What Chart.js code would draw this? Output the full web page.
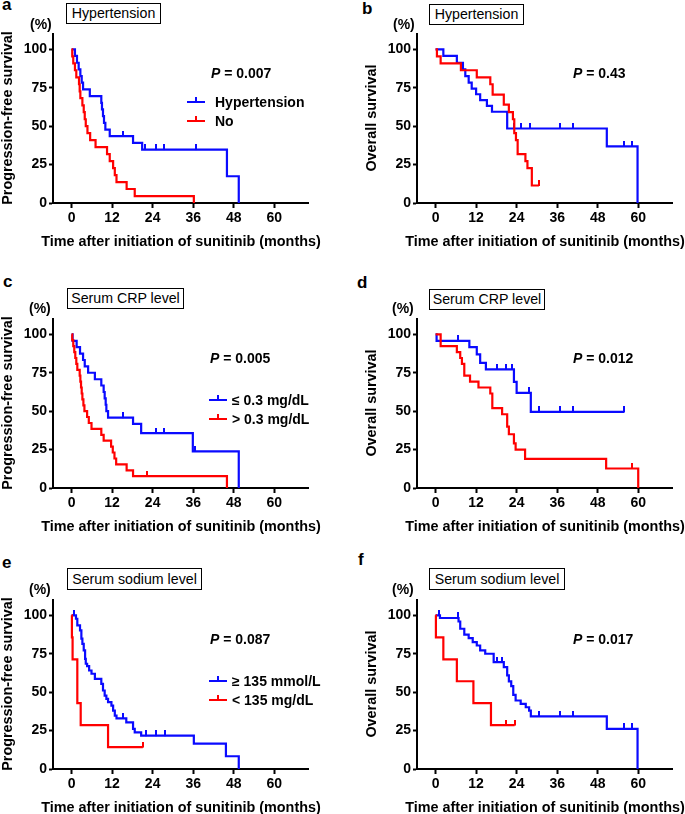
<!DOCTYPE html>
<html>
<head>
<meta charset="utf-8">
<script src="https://cdn.jsdelivr.net/npm/chart.js@4.4.1/dist/chart.umd.min.js"></script>
<style>
  body { margin: 0; background: #fff; }
  #wrap { position: relative; width: 685px; height: 814px; background: #fff; overflow: hidden; }
  .t { position: absolute; font-family: "Liberation Sans", Arial, sans-serif; font-weight: bold; font-size: 14px; line-height: 14px; color: #000; white-space: nowrap; }
  .ax { position: absolute; font-family: "Liberation Sans", Arial, sans-serif; font-weight: bold; font-size: 14.4px; line-height: 16px; color: #000; white-space: nowrap; }
  .L { position: absolute; font-family: "Liberation Sans", Arial, sans-serif; font-weight: bold; font-size: 17px; line-height: 17px; color: #000; }
  .box { position: absolute; box-sizing: border-box; border: 1.5px solid #000; display: flex; align-items: center; justify-content: center;
         font-family: "Liberation Sans", Arial, sans-serif; font-size: 14.2px; color: #000; white-space: nowrap; background: #fff; }
  .lg { position: absolute; height: 2px; }
  .lt { position: absolute; width: 2px; height: 5px; }
</style>
</head>
<body>
<div id="wrap">
  <div class="L" style="left:2px;top:-4px">a</div>
  <div class="L" style="left:362px;top:0px">b</div>
  <div class="L" style="left:3px;top:273px">c</div>
  <div class="L" style="left:357px;top:274px">d</div>
  <div class="L" style="left:2px;top:554px">e</div>
  <div class="L" style="left:358px;top:551px">f</div>

  <div class="box" style="left:66px;top:3px;width:95px;height:20.5px">Hypertension</div>
  <div class="box" style="left:429px;top:4px;width:95px;height:20.5px">Hypertension</div>
  <div class="box" style="left:67px;top:288px;width:117px;height:20.5px">Serum CRP level</div>
  <div class="box" style="left:429px;top:289px;width:116px;height:20.5px">Serum CRP level</div>
  <div class="box" style="left:67px;top:568px;width:135px;height:21.5px">Serum sodium level</div>
  <div class="box" style="left:429px;top:568px;width:136px;height:21.5px">Serum sodium level</div>

  <div class="t" style="left:30px;top:17px">(%)</div>
  <div class="t" style="left:393px;top:17px">(%)</div>
  <div class="t" style="left:29px;top:301px">(%)</div>
  <div class="t" style="left:392px;top:301px">(%)</div>
  <div class="t" style="left:29px;top:582px">(%)</div>
  <div class="t" style="left:392px;top:582px">(%)</div>

  <div class="t" style="left:211px;top:66px"><i>P</i> = 0.007</div>
  <div class="t" style="left:573px;top:66px"><i>P</i> = 0.43</div>
  <div class="t" style="left:210px;top:351px"><i>P</i> = 0.005</div>
  <div class="t" style="left:573px;top:351px"><i>P</i> = 0.012</div>
  <div class="t" style="left:210px;top:632px"><i>P</i> = 0.087</div>
  <div class="t" style="left:573px;top:632px"><i>P</i> = 0.017</div>
</div>

<script>
// ---- data (months, % surviving) ----
const xTicks = [0, 12, 24, 36, 48, 60];
const yTicks = [0, 25, 50, 75, 100];

// a: progression-free survival, hypertension
const aHypT = [0, 1.0, 1.6, 2.1, 2.6, 3.0, 3.4, 5.4, 8.8, 9.0, 9.3, 9.6, 10.0, 11.3, 18.2, 20.9, 46.0, 49.5];
const aHypS = [100, 95.7, 91.3, 87.0, 82.6, 78.3, 73.9, 69.6, 65.2, 60.9, 56.5, 52.2, 47.8, 43.5, 39.1, 34.8, 17.4, 0];
const aHypC = [15.2, 21.8, 25.1, 27.5, 36.9];
const aNoT = [0, 0.2, 0.5, 1.0, 1.4, 2.2, 2.4, 2.6, 3.2, 3.6, 3.9, 4.2, 4.7, 5.5, 7.1, 10.5, 11.3, 12.3, 12.8, 13.3, 16.3, 18.7, 36.2];
const aNoS = [100, 95.5, 90.9, 86.4, 81.8, 77.3, 72.7, 68.2, 63.6, 59.1, 54.5, 50.0, 45.5, 40.9, 36.4, 31.8, 27.3, 22.7, 18.2, 13.6, 9.1, 4.5, 0];
const aNoC = [];

// b: overall survival, hypertension
const bHypT = [0, 2.3, 6.3, 8.1, 8.8, 9.8, 10.7, 12.0, 13.2, 15.2, 16.7, 21.2, 50.7, 59.8];
const bHypS = [100, 95.7, 91.3, 87.0, 82.6, 78.3, 74.5, 70.8, 67.0, 63.2, 59.4, 48.5, 36.8, 0];
const bHypC = [23.2, 25.2, 27.9, 36.8, 40.8, 55.8, 58.2];
const bNoT = [0, 0.4, 1.5, 7.5, 12.2, 16.2, 16.9, 20.2, 21.7, 22.9, 23.3, 23.8, 24.3, 26.6, 27.2, 28.5];
const bNoS = [100, 95.5, 90.9, 86.4, 81.8, 77.3, 70.5, 64.0, 59.1, 54.5, 45.5, 40.9, 31.8, 27.3, 22.7, 11.4];
const bNoC = [30.6];

// c: progression-free survival, CRP
const cLowT = [0, 0.3, 1.5, 2.5, 3.4, 3.9, 4.9, 6.9, 8.8, 9.5, 9.8, 10.1, 10.3, 10.8, 18.2, 20.6, 35.9, 49.5];
const cLowS = [100, 95.8, 91.7, 87.5, 83.3, 79.2, 75.0, 70.8, 66.7, 62.5, 58.3, 54.2, 50.0, 45.8, 41.7, 35.7, 23.8, 0];
const cLowC = [15.2, 25.1, 27.5, 36.5];
const cHighT = [0, 0.2, 0.5, 0.8, 1.1, 1.4, 1.7, 2.4, 2.6, 2.8, 3.0, 3.2, 3.5, 3.8, 4.6, 5.1, 5.9, 8.8, 9.5, 11.7, 12.2, 12.7, 13.2, 16.3, 18.2, 46.0];
const cHighS = [100, 96.2, 92.3, 88.5, 84.6, 80.8, 76.9, 73.1, 69.2, 65.4, 61.5, 57.7, 53.8, 50.0, 46.2, 42.3, 38.5, 34.6, 30.8, 26.9, 23.1, 19.2, 15.4, 11.5, 7.7, 0];
const cHighC = [22.2];

// d: overall survival, CRP
const dLowT = [0, 0.3, 10.0, 12.2, 13.2, 14.9, 23.2, 24.0, 28.2];
const dLowS = [100, 95.8, 91.7, 87.0, 81.5, 77.2, 69.1, 61.9, 49.5];
const dLowC = [6.5, 18.2, 20.9, 22.7, 27.7, 30.6, 36.8, 40.8, 55.8];
const dHighT = [0, 1.5, 6.3, 7.3, 7.8, 8.5, 10.2, 12.7, 16.2, 16.8, 19.7, 21.2, 21.7, 23.2, 23.7, 26.5, 50.5, 60.0];
const dHighS = [100, 92.3, 88.5, 84.6, 80.8, 73.1, 69.2, 65.4, 61.5, 52.0, 48.0, 40.0, 35.0, 29.0, 25.0, 19.0, 12.7, 0];
const dHighC = [58.3];

// e: progression-free survival, sodium
const eHighT = [0, 1.3, 1.7, 2.5, 2.9, 3.2, 3.6, 4.0, 4.2, 4.6, 5.2, 5.9, 6.9, 8.8, 9.3, 9.8, 10.3, 10.8, 11.8, 12.3, 12.8, 13.3, 16.2, 18.2, 18.7, 20.6, 36.2, 45.7, 49.5];
const eHighS = [100, 97.8, 93.5, 90.2, 84.8, 81.5, 77.2, 71.7, 68.5, 67.0, 64.1, 62.0, 58.7, 55.4, 51.1, 47.8, 45.7, 43.5, 41.3, 38.0, 34.8, 33.0, 30.4, 26.1, 23.9, 21.7, 16.5, 8.3, 0];
const eHighC = [0.7, 15.2, 22.1, 25.0, 27.6];
const eLowT = [0, 0.1, 0.3, 1.7, 2.7, 10.8];
const eLowS = [100, 85.7, 71.4, 42.9, 28.6, 14.3];
const eLowC = [21.1];

// f: overall survival, sodium
const fHighT = [0, 1.3, 6.8, 7.3, 8.5, 9.8, 11.0, 12.2, 13.2, 14.7, 17.2, 20.2, 21.2, 21.7, 22.4, 23.0, 23.7, 25.2, 26.7, 27.7, 28.2, 50.7, 59.8];
const fHighS = [100, 98.3, 96.0, 91.3, 87.4, 85.2, 82.6, 80.4, 77.2, 75.0, 69.6, 66.3, 60.9, 57.0, 53.9, 48.3, 44.6, 42.4, 40.2, 38.0, 34.3, 26.1, 0];
const fHighC = [1.0, 6.5, 18.2, 19.7, 30.6, 36.8, 40.8, 55.8, 58.2];
const fLowT = [0, 0.1, 2.3, 6.3, 11.2, 16.4];
const fLowS = [100, 85.7, 71.4, 57.1, 42.9, 28.6];
const fLowC = [20.9, 23.4];

const BLUE = 'rgb(10,10,255)';
const RED = 'rgb(255,0,0)';
const FONT = '"Liberation Sans", Arial, sans-serif';
const PFS = 'Progression-free survival';
const OS = 'Overall survival';
const X_TITLE = 'Time after initiation of sunitinib (months)';

// legends: [left of line, left of text, y rows, labels]
const legends = [
  {x: 187, tx: 215, y: [102, 120.5], labels: ['Hypertension', 'No']},
  {x: 209, tx: 232, y: [400, 418.5], labels: ['\u2264 0.3 mg/dL', '> 0.3 mg/dL']},
  {x: 209, tx: 232, y: [681, 699.5], labels: ['\u2265 135 mmol/L', '< 135 mg/dL']}
];

const wrap = document.getElementById('wrap');

function addText(cls, txt, css) {
  const d = document.createElement('div');
  d.className = cls;
  d.style.cssText = css;
  d.textContent = txt;
  wrap.appendChild(d);
  return d;
}

legends.forEach(lg => {
  [BLUE, RED].forEach((col, i) => {
    const y = lg.y[i];
    const line = document.createElement('div');
    line.className = 'lg';
    line.style.cssText = `left:${lg.x}px;top:${y - 1}px;width:18px;background:${col}`;
    const tick = document.createElement('div');
    tick.className = 'lt';
    tick.style.cssText = `left:${lg.x + 8}px;top:${y - 5}px;background:${col}`;
    wrap.appendChild(line); wrap.appendChild(tick);
    addText('t', lg.labels[i], `left:${lg.tx}px;top:${y - 7}px`);
  });
});

function censorMark(col) {
  const c = document.createElement('canvas');
  c.width = 2; c.height = 11;
  const g = c.getContext('2d');
  g.fillStyle = col;
  g.fillRect(0, 0, 2, 6);
  return c;
}

function survAt(t, s, x) {
  let v = s[0];
  for (let i = 0; i < t.length; i++) if (t[i] <= x) v = s[i];
  return v;
}

function curveSets(t, s, cens, col) {
  const pts = t.map((x, i) => ({x: x, y: s[i]}));
  const lastC = cens.length ? Math.max(...cens) : -1;
  if (lastC > t[t.length - 1]) pts.push({x: lastC, y: s[s.length - 1]});
  return [
    {data: pts, borderColor: col, borderWidth: 2.2, stepped: 'before', pointRadius: 0, fill: false, clip: false},
    {data: cens.map(c => ({x: c, y: survAt(t, s, c)})), showLine: false, pointStyle: censorMark(col),
     pointRadius: 3, borderColor: col, backgroundColor: col, clip: false}
  ];
}

// ax: pixel x of y axis, top: pixel y of the 110 % level (plot is 255 x 169)
function panel(ax, top, yTitle, curves) {
  const cv = document.createElement('canvas');
  cv.width = 317; cv.height = 224;
  cv.style.cssText = `position:absolute;left:${ax - 54}px;top:${top - 10}px;width:317px;height:224px`;
  wrap.insertBefore(cv, wrap.firstChild);

  // axis titles as page text (the canvas would squeeze them to the axis length)
  addText('ax', X_TITLE, `left:${ax + 128}px;top:${top + 206.5}px;transform:translate(-50%,-50%)`);
  addText('ax', yTitle, `left:${ax - 46}px;top:${top + 84}px;transform:translate(-50%,-50%) rotate(-90deg)`);

  let ds = [];
  curves.forEach(c => { ds = ds.concat(curveSets(c[0], c[1], c[2], c[3])); });
  const tickFont = {family: FONT, size: 14, weight: 'bold'};
  new Chart(cv, {
    type: 'line',
    data: {datasets: ds},
    options: {
      responsive: false, animation: false, events: [],
      layout: {padding: {top: 10, right: 8, left: 0, bottom: 0}},
      plugins: {legend: {display: false}, tooltip: {enabled: false}},
      scales: {
        x: {
          type: 'linear', min: -5.5, max: 70,
          afterBuildTicks: s => { s.ticks = xTicks.map(v => ({value: v})); },
          afterFit: s => { s.height = 45; s.paddingLeft = 0; s.paddingRight = 0; },
          grid: {drawOnChartArea: false, drawTicks: true, tickLength: 5, tickWidth: 2, color: '#000', tickColor: '#000'},
          border: {display: true, width: 2, color: '#000'},
          ticks: {color: '#000', font: tickFont, padding: 2, maxRotation: 0, autoSkip: false}
        },
        y: {
          type: 'linear', min: 0, max: 110,
          afterBuildTicks: s => { s.ticks = yTicks.map(v => ({value: v})); },
          afterFit: s => { s.width = 54; s.paddingTop = 0; s.paddingBottom = 0; },
          grid: {drawOnChartArea: false, drawTicks: true, tickLength: 4, tickWidth: 2, color: '#000', tickColor: '#000'},
          border: {display: true, width: 2, color: '#000'},
          ticks: {color: '#000', font: tickFont, padding: 2, autoSkip: false}
        }
      }
    }
  });
}

// red first so it is drawn on top
panel(53, 34, PFS, [[aNoT, aNoS, aNoC, RED], [aHypT, aHypS, aHypC, BLUE]]);
panel(417, 34, OS, [[bNoT, bNoS, bNoC, RED], [bHypT, bHypS, bHypC, BLUE]]);
panel(53, 319, PFS, [[cHighT, cHighS, cHighC, RED], [cLowT, cLowS, cLowC, BLUE]]);
panel(417, 319, OS, [[dHighT, dHighS, dHighC, RED], [dLowT, dLowS, dLowC, BLUE]]);
panel(53, 600, PFS, [[eLowT, eLowS, eLowC, RED], [eHighT, eHighS, eHighC, BLUE]]);
panel(417, 600, OS, [[fLowT, fLowS, fLowC, RED], [fHighT, fHighS, fHighC, BLUE]]);
</script>
</body>
</html>
